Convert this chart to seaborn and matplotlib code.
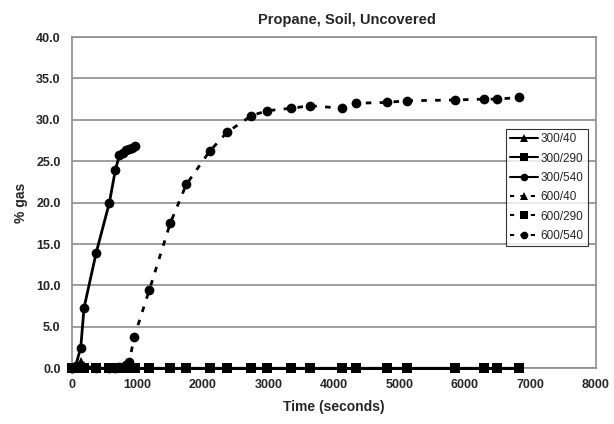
import matplotlib
matplotlib.use("Agg")
import matplotlib.pyplot as plt
import seaborn as sns
import pandas as pd
from matplotlib.lines import Line2D

# ---- data ----
t300 = [0, 60, 138, 188, 372, 575, 667, 728, 780, 830, 870, 920, 968]
g300_540 = [0, 0.3, 2.5, 7.3, 13.9, 20.0, 24.0, 25.7, 26.0, 26.3, 26.5, 26.6, 26.8]

t300_low = [0, 60, 138, 188, 372, 575, 667, 728, 780, 830, 870, 920, 968, 1182,
            1503, 1748, 2104, 2370, 2742, 2982, 3349, 3639, 4128, 4332, 4806,
            5112, 5850, 6294, 6489, 6829]
g300_40 = [0, 0.2, 0.8, 0.3] + [0] * 26
g300_290 = [0] * 30

t600 = [0, 372, 575, 667, 728, 780, 830, 880, 953, 1182, 1503, 1748, 2104, 2370,
        2742, 2982, 3349, 3639, 4128, 4332, 4806, 5112, 5850, 6294, 6489, 6829]
g600_40 = [0] * 26
g600_290 = [0] * 26
g600_540 = [0, 0, 0, 0, 0.1, 0.2, 0.4, 0.8, 3.8, 9.4, 17.5, 22.2, 26.2, 28.5,
            30.5, 31.1, 31.4, 31.7, 31.4, 32.0, 32.1, 32.3, 32.4, 32.5, 32.5, 32.7]

series = [
    ("300/40", t300_low, g300_40, "^", "-"),
    ("300/290", t300_low, g300_290, "s", "-"),
    ("300/540", t300, g300_540, "o", "-"),
    ("600/40", t600, g600_40, "^", (0, (2, 3))),
    ("600/290", t600, g600_290, "s", (0, (2, 3))),
    ("600/540", t600, g600_540, "o", (0, (2, 3))),
]

sns.set_theme(style="white")
plt.rcParams['font.family'] = ['Liberation Sans', 'DejaVu Sans']

fig = plt.figure(figsize=(6.14, 4.24), dpi=100)
ax = fig.add_axes([0.1168, 0.1314, 0.9707 - 0.1168, 0.9127 - 0.1314])

handles = []
for name, t, g, mk, ls in series:
    df = pd.DataFrame({"t": t, "g": g})
    sns.lineplot(data=df, x="t", y="g", ax=ax, color="black", marker=mk,
                 markersize=7, markeredgewidth=0, linewidth=2.0, linestyle=ls,
                 estimator=None, sort=False, zorder=3, clip_on=False)
    handles.append(Line2D([], [], color="black", marker=mk, markersize=5.5,
                          markeredgewidth=0, linewidth=1.5, linestyle=ls, label=name))

ax.set_xlim(0, 8000)
ax.set_ylim(0, 40)
ax.set_xticks(range(0, 8001, 1000))
ax.set_yticks([i * 5 for i in range(9)])
ax.set_yticklabels([f"{i * 5:.1f}" for i in range(9)])
ax.yaxis.grid(True, color="#8c8c8c", linewidth=1.2)
ax.xaxis.grid(False)
ax.set_axisbelow(True)
for sp in ax.spines.values():
    sp.set_color("#8c8c8c")
    sp.set_linewidth(1.2)
ax.tick_params(axis="both", which="major", direction="out", length=4, width=1,
               color="#8c8c8c", labelsize=9, pad=4)
for lab in ax.get_xticklabels() + ax.get_yticklabels():
    lab.set_fontweight("bold")

ax.set_xlabel("Time (seconds)", fontsize=10, fontweight="bold", labelpad=6)
ax.set_ylabel("% gas", fontsize=10, fontweight="bold", labelpad=6)
fig.text(347 / 614, 1 - 20 / 424, "Propane, Soil, Uncovered", ha="center", va="center",
         fontsize=10.5, fontweight="bold")

leg = ax.legend(handles=handles, loc="upper left", bbox_to_anchor=(0.828, 0.722),
                fontsize=8.5, frameon=True, fancybox=False, handlelength=2.4,
                handletextpad=0.2, labelspacing=0.62, borderpad=0.35,
                borderaxespad=0)
leg.get_frame().set_edgecolor("black")
leg.get_frame().set_linewidth(0.8)

fig.savefig("out.png", dpi=100)
